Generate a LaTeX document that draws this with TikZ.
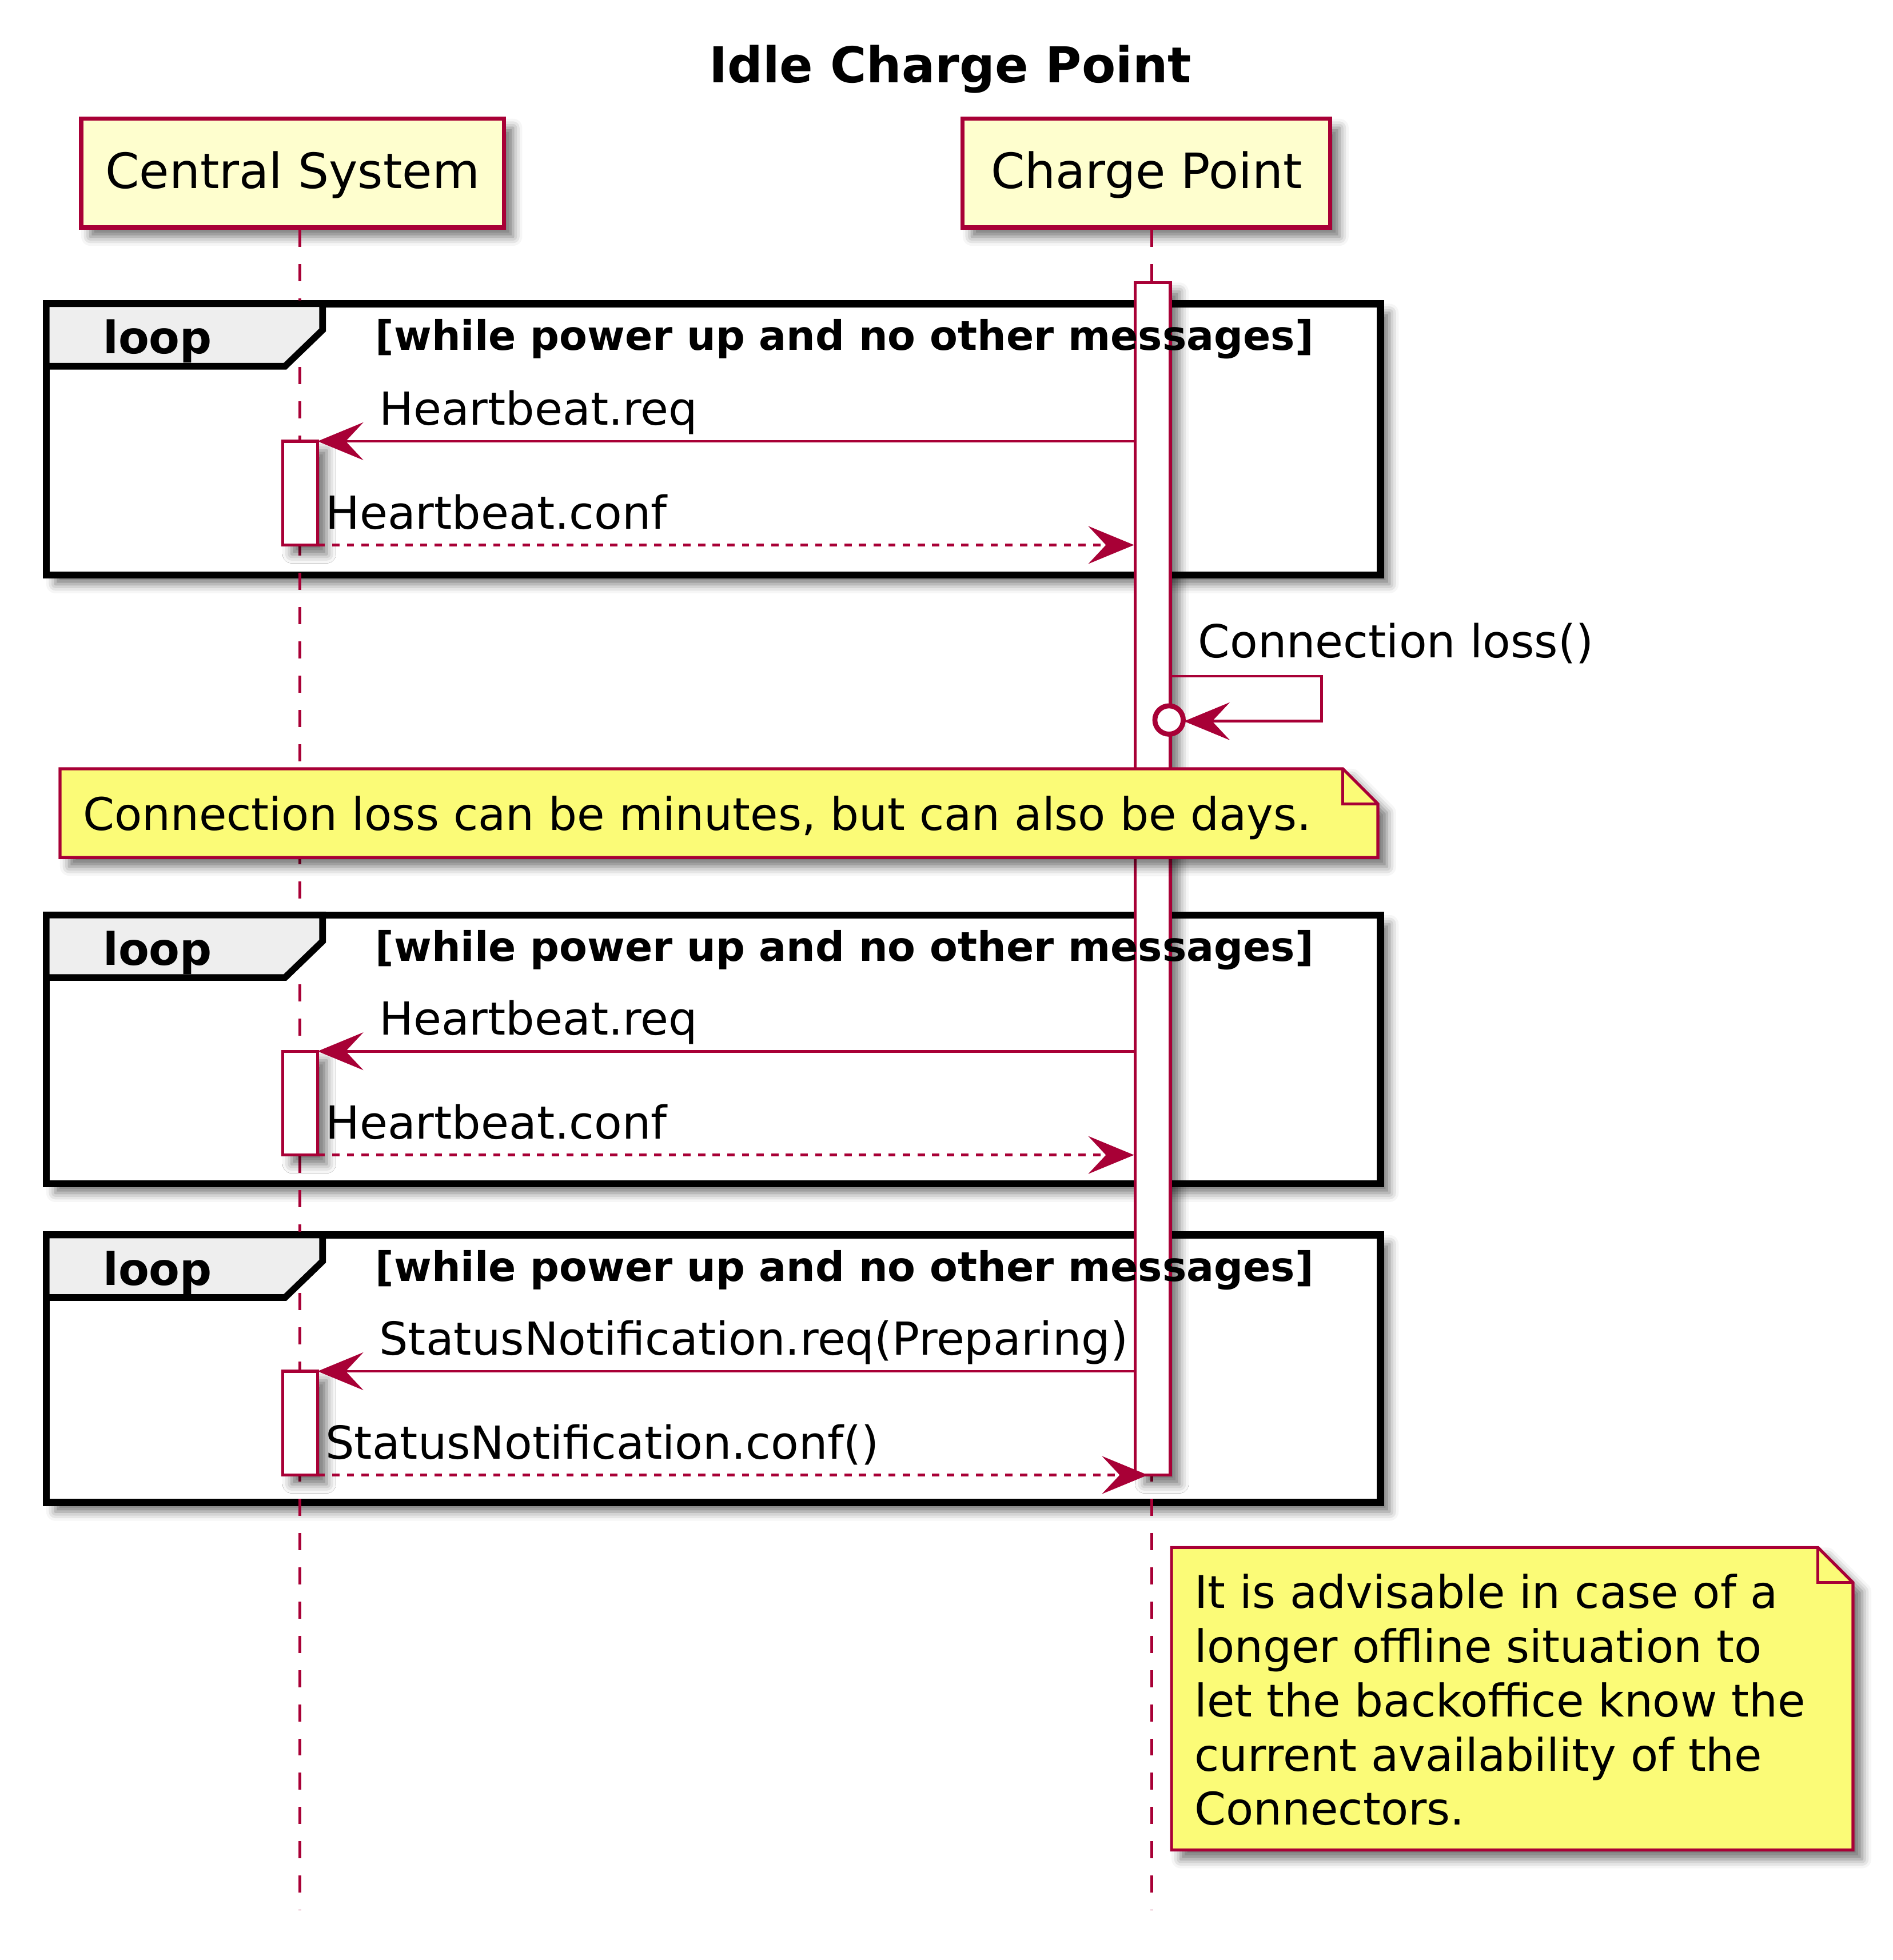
\documentclass[tikz,border=0pt]{standalone}
\usepackage{fontspec}
\setmainfont{DejaVu Sans}
\usetikzlibrary{arrows.meta,shadows.blur}
\definecolor{pucrim}{HTML}{A80036}
\definecolor{pufill}{HTML}{FEFECE}
\definecolor{punote}{HTML}{FBFB77}
\definecolor{putab}{HTML}{EEEEEE}
\newcommand\fsz[1]{\fontsize{#1}{#1}\selectfont}
\begin{document}
\begin{tikzpicture}[x=0.5469pt,y=-0.5469pt,
  shad/.style={blur shadow={shadow xshift=4pt,shadow yshift=-4pt,shadow blur radius=4pt,shadow opacity=55}},
  part/.style={draw=pucrim,fill=pufill,line width=1.8pt,shad,inner sep=0pt,font=\fsz{21.3},text depth=2.8pt},
  lifel/.style={draw=pucrim,line width=1.3pt,dash pattern=on 7.5pt off 7.5pt},
  frame/.style={draw=black,line width=3.1pt,fill=white,shad},
  tabst/.style={draw=black,line width=2.9pt,fill=putab},
  bar/.style={draw=pucrim,fill=white,line width=1.3pt,shad},
  notest/.style={draw=pucrim,fill=punote,line width=1.3pt,shad},
  msg/.style={draw=pucrim,line width=1.2pt,-{Stealth[length=20pt,width=16.5pt,inset=7.7pt]}},
  ret/.style={msg,dash pattern=on 3.2pt off 3.2pt},
  lbl/.style={anchor=base west,inner sep=0pt,font=\fsz{19.9}},
  looplbl/.style={anchor=base west,inner sep=0pt,font=\bfseries\fsz{19.6}},
  condlbl/.style={anchor=base west,inner sep=0pt,font=\bfseries\fsz{17.8}}]
\useasboundingbox (0,0) rectangle (1514,1568);

% title
\node (title) [anchor=base,inner sep=0pt,font=\bfseries\fsz{21.6}] at (760,66) {Idle Charge Point};

% participants
\node (cs) [part,minimum width=184.9pt,minimum height=47.6pt] at (234,138.5) {Central System};
\node (cp) [part,minimum width=160.8pt,minimum height=47.6pt] at (917,138.5) {Charge Point};

% loop frames
\foreach \t/\b in {243/460,732/947,988/1202}{
  \draw[frame] (37,\t) rectangle (1104,\b);
}

% lifelines
\coordinate (csT) at (240,184);
\coordinate (csB) at (240,1528);
\coordinate (cpT) at (921,184);
\coordinate (cpB) at (921,1528);
\draw[lifel] (csT) -- (csB);
\draw[lifel] (cpT) -- (cpB);

% loop tabs
\foreach \t in {243,732,988}{
  \draw[tabst] (37,\t) -- (258,\t) -- (258,\t+21) -- (228,\t+50) -- (37,\t+50) -- cycle;
}

% activation bars
\draw[bar] (908,226) rectangle (936,1180);
\foreach \r/\c in {353/436,841/924,1097/1180}{
  \draw[bar] (226,\r) rectangle (254,\c);
}

% loop labels
\foreach \t/\n in {243/a,732/b,988/c}{
  \node[looplbl] (lp\n) at (82,\t+40) {loop};
  \node[condlbl] (cd\n) at (300,\t+37) {[while power up and no other messages]};
}

% loop a messages
\coordinate (a1s) at (908,353);
\coordinate (a1e) at (254,353);
\coordinate (a2s) at (254,436);
\coordinate (a2e) at (907,436);
\draw[msg] (a1s) -- (a1e);
\draw[ret] (a2s) -- (a2e);
\node[lbl] (la1) at (303,340) {Heartbeat.req};
\node[lbl] (la2) at (260,423) {Heartbeat.conf};

% self message
\coordinate (s0) at (936,541);
\coordinate (s1) at (1057,541);
\coordinate (s2) at (1057,577);
\coordinate (s3) at (947,577);
\draw[msg] (s0) -- (s1) -- (s2) -- (s3);
\draw[draw=pucrim,fill=white,line width=2.2pt] (935,576) circle[radius=6.2pt];
\node[lbl] (ls) at (958,526) {Connection loss()};

% note 1
\draw[notest] (48,615) -- (1074,615) -- (1102,643) -- (1102,686) -- (48,686) -- cycle;
\draw[draw=pucrim,line width=1.3pt] (1074,615) -- (1074,643) -- (1102,643);
\node[lbl,font=\fsz{19.7}] (n1) at (66,664) {Connection loss can be minutes, but can also be days.};

% loop b messages
\coordinate (b1s) at (908,841);
\coordinate (b1e) at (254,841);
\coordinate (b2s) at (254,924);
\coordinate (b2e) at (907,924);
\draw[msg] (b1s) -- (b1e);
\draw[ret] (b2s) -- (b2e);
\node[lbl] (lb1) at (303,828) {Heartbeat.req};
\node[lbl] (lb2) at (260,911) {Heartbeat.conf};

% loop c messages
\coordinate (c1s) at (908,1097);
\coordinate (c1e) at (254,1097);
\coordinate (c2s) at (254,1180);
\coordinate (c2e) at (918,1180);
\draw[msg] (c1s) -- (c1e);
\draw[ret] (c2s) -- (c2e);
\node[lbl] (lc1) at (303,1084) {StatusNotification.req(Preparing)};
\node[lbl] (lc2) at (260,1167) {StatusNotification.conf()};

% note 2
\draw[notest] (937,1238) -- (1454,1238) -- (1482,1266) -- (1482,1480) -- (937,1480) -- cycle;
\draw[draw=pucrim,line width=1.3pt] (1454,1238) -- (1454,1266) -- (1482,1266);
\node[align=left,anchor=base west,inner sep=0pt,font=\fontsize{19.7}{23.7}\selectfont] (n2) at (955,1460)
  {It is advisable in case of a\\longer offline situation to\\let the backoffice know the\\current availability of the\\Connectors.};
\end{tikzpicture}
\end{document}
